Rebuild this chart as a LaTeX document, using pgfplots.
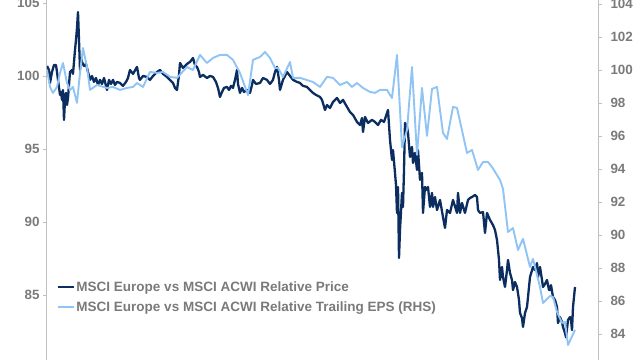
\documentclass[border=0pt]{standalone}
\usepackage{pgfplots}
\pgfplotsset{compat=1.18}
\usepackage{fontspec}
\setmainfont{Liberation Sans}
\definecolor{darkblue}{RGB}{11,45,95}
\definecolor{lightblue}{RGB}{143,196,245}
\definecolor{txtgray}{RGB}{122,122,122}
\definecolor{axgray}{RGB}{191,191,191}
\pgfplotsset{
  base/.style={scale only axis, width=551bp, height=360bp, xmin=47, xmax=598,
    axis x line=none,
    tick align=outside, major tick length=4bp,
    tick style={draw=axgray, line width=0.8bp},
    axis line style={draw=axgray, line width=1bp},
    ticklabel style={font=\bfseries\fontsize{13.4bp}{16bp}\selectfont, text=txtgray},
    /pgf/number format/assume math mode=true,
  }
}
\begin{document}
\begin{tikzpicture}
\useasboundingbox (-47bp,0) rectangle (593bp,360bp);
\begin{axis}[base, ymin=80.55, ymax=105.2, axis y line*=left, ytick={85,90,95,100,105}]
\addplot[darkblue, line width=2.3bp, line join=round] coordinates {
(47,100.68)(49,100.41)(50,99.52)(52,100.27)(54,100.75)(56,100.75)(57,100.27)(58,99.73)(60,98.70)(61,98.90)(62,98.36)(63,99.04)(64,96.99)(65,98.36)(66,98.84)(67,98.01)(68,98.49)(70,100.27)(72,100.41)(73,100.14)(75,101.78)(76,102.47)(77,103.29)(78,104.38)(79,102.47)(80,100.41)(81,101.23)(82,100.96)(84,100.68)(86,100.82)(88,100.27)(90,99.73)(92,100.0)(94,99.59)(96,99.86)(98,99.38)(100,99.73)(102,99.45)(104,99.86)(106,99.32)(107,99.04)(109,99.73)(111,99.45)(113,99.73)(115,99.38)(117,99.59)(120,99.52)(123,99.32)(126,99.59)(128,99.86)(130,100.41)(133,100.14)(137,100.62)(139,99.86)(140,99.73)(143,100.0)(147,99.93)(150,99.73)(153,100.0)(157,100.27)(160,100.41)(163,100.14)(167,99.93)(170,99.73)(173,99.52)(175,99.18)(177,99.04)(179,100.07)(180,100.89)(183,100.55)(187,100.82)(190,100.96)(193,101.23)(195,100.75)(197,100.62)(199,100.27)(200,99.93)(203,100.07)(207,99.86)(210,100.0)(213,99.93)(216,99.59)(218,99.18)(220,98.56)(222,98.90)(224,99.18)(227,99.25)(229,99.04)(231,99.32)(233,99.18)(235,99.73)(237,100.41)(238,99.45)(240,98.84)(242,99.18)(244,98.90)(247,99.04)(250,98.84)(252,99.38)(253,99.73)(256,99.45)(260,99.52)(263,99.86)(267,99.73)(270,99.45)(273,99.73)(275,100.27)(277,100.62)(279,99.73)(280,99.04)(283,99.73)(287,100.27)(290,100.0)(293,99.73)(297,99.59)(300,99.52)(303,99.32)(307,99.25)(310,99.04)(313,98.84)(316,98.70)(320,98.56)(322,98.36)(325,97.67)(327,98.01)(330,97.81)(333,98.22)(337,98.49)(340,98.15)(343,98.36)(347,97.88)(350,97.53)(353,97.33)(357,96.85)(360,96.64)(362,97.12)(363,96.16)(365,97.19)(368,96.78)(372,96.99)(375,96.85)(378,96.64)(381,96.99)(384,96.85)(387,97.47)(388,97.67)(389,96.64)(390,95.62)(392,94.25)(393,94.93)(395,93.36)(396,92.53)(397,90.62)(398,92.40)(399,87.53)(400,89.45)(402,91.99)(403,91.03)(404,93.56)(405,96.78)(407,96.51)(408,96.10)(410,94.45)(412,95.14)(413,94.04)(415,94.73)(417,93.56)(418,94.93)(420,92.88)(422,93.36)(423,90.62)(425,92.40)(427,92.19)(428,92.40)(430,91.03)(432,91.99)(433,91.03)(435,91.71)(437,90.82)(440,91.51)(443,90.34)(445,89.59)(447,90.82)(450,90.62)(453,91.51)(457,90.62)(458,91.99)(460,90.62)(462,91.30)(465,90.62)(468,91.51)(470,91.64)(472,91.71)(475,91.85)(477,91.71)(478,90.82)(480,90.62)(483,90.68)(485,89.25)(487,90.62)(490,90.14)(493,89.79)(495,89.45)(497,88.77)(499,87.40)(500,86.03)(502,86.92)(503,86.23)(505,85.55)(507,86.71)(508,87.40)(510,86.51)(512,86.03)(513,85.34)(515,85.89)(517,85.55)(519,84.66)(520,83.77)(522,83.42)(523,82.81)(525,83.77)(527,84.18)(530,86.23)(533,86.92)(535,86.71)(537,87.19)(538,86.23)(540,86.92)(542,86.03)(543,85.55)(545,85.75)(547,86.03)(549,85.34)(550,85.34)(551,85.68)(553,84.86)(555,84.66)(557,84.18)(558,83.08)(560,83.49)(562,83.15)(563,82.81)(565,82.40)(566,82.10)(568,83.29)(570,83.49)(571,83.29)(572,82.60)(573,84.18)(575,85.55)
};
\end{axis}
\begin{axis}[base, ymin=82.42, ymax=104.24, axis y line*=right, ytick={84,86,...,104},
  yticklabel style={xshift=5bp},
  legend image code/.code={\draw[#1] (0bp,0bp) -- (16bp,0bp);},
  legend style={at={(axis cs:57,87.25)}, anchor=north west, draw=none, fill=none,
    font=\bfseries\fontsize{13.5bp}{16bp}\selectfont, text=txtgray, inner sep=0pt,
    nodes={inner sep=1bp}, row sep=7bp},
  legend cell align=left]
\addlegendimage{darkblue, line width=2.3bp}
\addlegendentry{MSCI Europe vs MSCI ACWI Relative Price}
\addplot[lightblue, line width=1.9bp, line join=round] coordinates {
(47,100.0)(50,98.97)(53,98.61)(57,98.97)(60,99.82)(63,100.42)(67,99.21)(70,98.79)(73,98.97)(77,98.0)(80,99.82)(83,101.33)(87,100.18)(90,98.79)(97,99.09)(107,98.91)(113,98.97)(120,98.79)(127,98.91)(133,98.97)(137,99.21)(143,98.97)(150,99.88)(157,99.82)(163,99.88)(170,99.58)(177,99.52)(187,100.18)(193,100.0)(200,100.91)(207,100.42)(213,100.73)(220,100.91)(227,100.91)(233,100.61)(240,99.82)(248,98.48)(253,100.61)(260,100.79)(265,101.09)(270,100.73)(275,100.12)(278,100.12)(283,99.58)(290,100.48)(293,99.52)(300,99.52)(307,99.39)(313,99.27)(320,98.97)(327,99.58)(333,99.52)(340,99.09)(347,99.27)(352,98.97)(357,99.21)(363,98.91)(370,98.67)(375,98.61)(380,98.79)(387,98.79)(392,98.30)(397,100.91)(402,95.33)(407,96.36)(412,100.18)(417,94.85)(422,98.91)(427,96.0)(432,98.85)(437,98.97)(443,96.18)(447,95.82)(453,97.76)(457,97.70)(467,94.97)(472,95.15)(478,93.94)(483,94.42)(488,94.42)(492,94.12)(500,93.33)(503,92.79)(508,90.18)(513,90.42)(518,89.09)(523,89.76)(530,88.06)(533,88.55)(540,86.85)(543,85.88)(550,86.30)(553,86.24)(557,85.33)(562,84.67)(565,84.73)(568,83.33)(575,84.24)
};
\addlegendentry{MSCI Europe vs MSCI ACWI Relative Trailing EPS (RHS)}
\end{axis}
\end{tikzpicture}
\end{document}
